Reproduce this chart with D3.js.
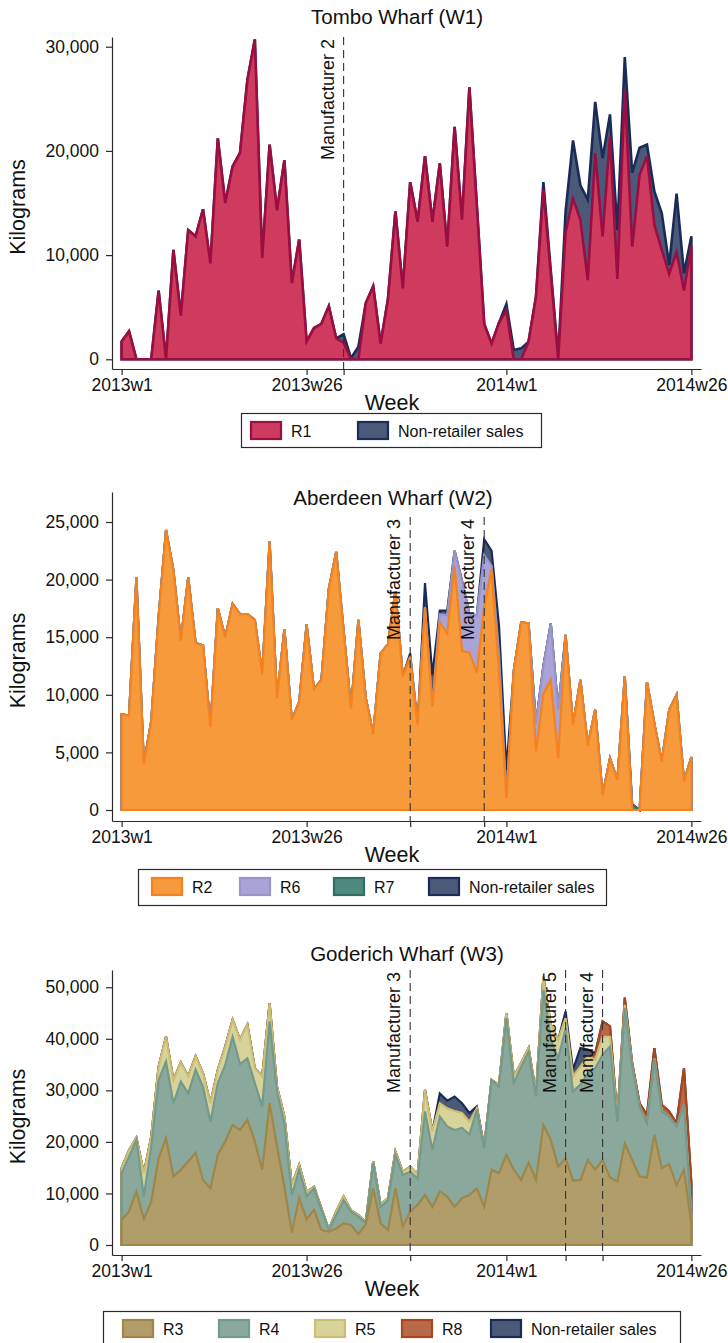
<!DOCTYPE html>
<html>
<head>
<meta charset="utf-8">
<script src="https://cdn.jsdelivr.net/npm/d3@7"></script>
<style>
  body { margin: 0; background: #fff; }
  text { font-family: "Liberation Sans", Arial, Helvetica, sans-serif; fill: #111; }
</style>
</head>
<body>
<svg id="chart" width="728" height="1343"></svg>
<script>
// Weekly landings, 2013w1 .. 2014w26 (78 weeks)
const weeks = d3.range(78);
const weekTicks = [0, 25, 52, 77];
const weekTickLabels = ["2013w1", "2013w26", "2014w1", "2014w26"];

// ---- Tombo Wharf (W1) ----
const w1R1 = [1700,2700,0,0,0,6600,0,10500,4200,12400,
  11800,14400,9200,21200,15000,18500,19800,26800,30700,9700,
  20600,14300,19100,7300,11500,1700,3000,3400,5100,2000,
  1600,0,0,5400,7000,1500,5800,14200,6800,17000,
  13200,19500,13200,18800,10800,22300,13400,26100,14800,3400,
  1500,3500,4700,0,0,1700,6000,16300,8200,0,
  12200,15400,13400,7600,19800,11800,21400,7700,25900,10800,
  17700,19500,12900,10500,8200,10300,6600,10900];
const w1NonRetail = [0,0,0,0,0,0,0,0,0,0,
  0,0,0,0,0,0,0,0,0,0,
  0,0,0,0,0,0,0,0,0,0,
  800,100,1200,0,0,0,0,0,0,0,
  0,0,0,0,0,0,0,0,0,0,
  0,0,600,900,1050,0,0,700,300,200,
  2000,5600,3300,7700,4900,7500,2100,4700,3100,7100,
  2600,1100,3200,3500,850,5600,1650,900];
const w1Ticks = [0, 10000, 20000, 30000];
const w1Markers = [{ week: 30, label: "Manufacturer 2" }];

// ---- Aberdeen Wharf (W2) ----
const w2R2 = [8300,8200,20200,4000,7700,16800,24300,20800,14700,20200,
  14500,14300,7200,17500,15000,17900,17000,17000,16500,11800,
  23300,9700,15700,7800,9400,16100,10500,11300,19200,22400,
  15600,8800,16500,9700,6600,13600,14400,19000,11600,13300,
  7400,17600,9000,16300,15300,21200,13800,13700,11900,17600,
  20900,12000,1000,12100,16300,16200,5100,10100,11300,4500,
  15200,7400,11300,5600,8700,1300,4500,2600,11600,0,
  0,11100,7500,4200,8700,10000,2500,4600];
const w2R6 = [0,0,0,0,0,0,0,0,0,0,
  0,0,0,0,0,0,0,0,0,0,
  0,0,0,0,0,0,0,0,0,0,
  0,0,0,0,0,0,0,0,0,0,
  0,0,0,700,1600,1300,6100,3300,5000,4500,
  300,1500,0,0,0,0,2400,2400,4900,4200,
  0,0,0,0,0,0,0,0,0,0,
  0,0,0,0,0,0,0,0];
const w2R7 = [0,0,0,0,0,0,0,0,0,0,
  0,0,0,0,0,0,0,0,0,0,
  0,0,0,0,0,0,0,0,0,0,
  0,0,0,0,0,0,0,0,0,0,
  0,0,0,0,0,0,0,0,0,0,
  0,0,0,0,0,0,0,0,0,0,
  0,0,0,0,0,0,0,0,0,500,
  0,0,0,0,0,0,0,0];
const w2NonRetail = [0,0,0,0,0,0,0,0,0,0,
  0,0,0,0,0,0,0,0,0,0,
  0,0,0,0,0,0,0,0,0,0,
  0,0,0,0,0,0,0,0,0,300,
  0,2100,2700,300,400,0,0,0,0,1400,
  1300,2500,2500,0,0,0,0,0,0,0,
  0,0,0,0,0,0,0,0,0,0,
  0,0,0,0,0,0,0,0];
const w2Ticks = [0, 5000, 10000, 15000, 20000, 25000];
const w2Markers = [{ week: 39, label: "Manufacturer 3" }, { week: 49, label: "Manufacturer 4" }];

// ---- Goderich Wharf (W3) ----
const w3R3 = [4850,6500,10400,5000,8400,16800,20700,13300,14600,16200,
  17900,12600,11000,17500,20100,23300,22300,24300,20100,14600,
  27500,19100,11300,2400,9100,5000,6800,2900,2600,3200,
  4200,3900,2100,4000,11000,4200,2900,11000,3600,6500,
  7800,9700,7400,10400,9400,7400,9100,9700,11000,7400,
  14600,13900,17500,14600,12600,16000,12600,23300,20400,15200,
  16800,12500,12600,16500,14600,16500,13100,12300,19700,16500,
  13300,13100,21400,14900,15700,11600,14600,4000];
const w3R4 = [9050,10650,10000,4400,10700,15200,14900,14200,17100,13200,
  16100,18100,12900,13900,14800,17100,12800,11900,11300,12300,
  15900,10700,12300,7300,5500,4500,4200,3900,300,2600,
  4500,2600,3400,300,4900,3200,5800,6500,10000,7700,
  5100,16200,11000,14500,13600,14900,13600,11700,15200,11400,
  17400,16800,26500,16800,22000,21500,16200,26200,19400,21000,
  25200,17300,18500,16800,19700,20400,25400,11600,26300,18100,
  13600,10500,14800,11000,9200,11400,12600,1500];
const w3R5 = [1000,1250,400,4500,1900,2600,4800,4500,3700,3300,
  2600,2600,3600,2600,3600,3300,4700,6500,2900,5800,
  3500,900,1300,1900,900,800,300,300,100,700,
  700,200,300,100,300,400,400,600,600,1000,
  700,4200,3600,2600,3500,3700,2900,2500,300,300,
  0,400,1000,1300,700,700,600,2500,2900,3600,
  2000,2900,3500,3300,1600,3500,1900,700,600,300,
  0,0,0,0,0,0,0,0];
const w3R8 = [0,0,0,0,0,0,0,0,0,0,
  0,0,0,0,0,0,0,0,0,0,
  0,0,0,0,0,0,0,0,0,0,
  0,0,0,0,0,0,0,0,0,0,
  0,0,0,0,0,0,0,0,0,0,
  0,0,0,0,0,0,0,0,0,0,
  0,0,0,0,1000,3000,2000,0,1400,400,
  600,1600,2000,1300,1000,600,7100,6500];
const w3NonRetail = [0,0,0,0,0,0,0,0,0,0,
  0,0,0,0,0,0,0,0,0,0,
  0,0,0,0,0,0,0,0,0,0,
  0,0,0,0,0,0,0,0,0,0,
  0,0,0,1900,1500,2800,1900,1700,400,0,
  0,0,0,0,0,0,0,0,0,0,
  1300,1300,3600,1300,300,0,0,0,0,0,
  0,0,0,0,0,0,0,0];
const w3Ticks = [0, 10000, 20000, 30000, 40000, 50000];
const w3Markers = [
  { week: 39, label: "Manufacturer 3" },
  { week: 60, label: "Manufacturer 5" },
  { week: 65, label: "Manufacturer 4" }
];

// Series styles
const STYLE = {
  R1: { fill: "#cf3a5f", stroke: "#9b0e41" },
  R2: { fill: "#f69a3b", stroke: "#f3821f" },
  R3: { fill: "#b09d69", stroke: "#9e8748" },
  R4: { fill: "#8aa99c", stroke: "#739a8b" },
  R5: { fill: "#d8d29b", stroke: "#cbbf74" },
  R6: { fill: "#aaa4d6", stroke: "#9b93cc" },
  R7: { fill: "#4f8a7e", stroke: "#2f6e63" },
  R8: { fill: "#b7694a", stroke: "#a8461e" },
  NR: { fill: "#4b5a79", stroke: "#1b2b57" }
};

const panels = [
  {
    title: "Tombo Wharf (W1)", titleX: 397, titleY: 24,
    top: 37, bottom: 369, yDomain: [-931, 30931], yTicks: w1Ticks,
    markers: w1Markers, markerTop: null, lineWidth: 2.6,
    series: [
      { name: "R1", values: w1R1, ...STYLE.R1 },
      { name: "Non-retailer sales", values: w1NonRetail, ...STYLE.NR }
    ],
    legend: { x: 241, y: 413, w: 300, h: 34, items: [251, 358] }
  },
  {
    title: "Aberdeen Wharf (W2)", titleX: 393, titleY: 505,
    top: 492, bottom: 821, yDomain: [-955, 27604], yTicks: w2Ticks,
    markers: w2Markers, markerTop: 25430, lineWidth: 2.2,
    series: [
      { name: "R2", values: w2R2, ...STYLE.R2 },
      { name: "R6", values: w2R6, ...STYLE.R6 },
      { name: "R7", values: w2R7, ...STYLE.R7 },
      { name: "Non-retailer sales", values: w2NonRetail, ...STYLE.NR }
    ],
    legend: { x: 138, y: 869, w: 468, h: 36, items: [152, 240, 334, 429] }
  },
  {
    title: "Goderich Wharf (W3)", titleX: 407, titleY: 961,
    top: 970, bottom: 1255, yDomain: [-1940, 53346], yTicks: w3Ticks,
    markers: w3Markers, markerTop: null, lineWidth: 2.2,
    series: [
      { name: "R3", values: w3R3, ...STYLE.R3 },
      { name: "R4", values: w3R4, ...STYLE.R4 },
      { name: "R5", values: w3R5, ...STYLE.R5 },
      { name: "R8", values: w3R8, ...STYLE.R8 },
      { name: "Non-retailer sales", values: w3NonRetail, ...STYLE.NR }
    ],
    legend: { x: 103, y: 1311, w: 577, h: 40, items: [123, 219, 315, 402, 491] }
  }
];

const svg = d3.select("#chart");
const x = d3.scaleLinear().domain([-1.3, 78.3]).range([112, 701]);
const AXIS = "#2a2a2a";

function drawPanel(p) {
  const g = svg.append("g");
  const y = d3.scaleLinear().domain(p.yDomain).range([p.bottom, p.top]);

  // stacked areas, each drawn from zero to its cumulative top; upper totals first
  const keys = p.series.map(s => s.name);
  const rows = weeks.map(i => Object.fromEntries(p.series.map(s => [s.name, s.values[i]])));
  const layers = d3.stack().keys(keys)(rows);
  const area = d3.area()
    .x((d, i) => x(weeks[i]))
    .y0(y(0))
    .y1(d => y(d[1]));
  layers.slice().reverse().forEach(layer => {
    const s = p.series[layer.index];
    g.append("path")
      .attr("d", area(layer))
      .attr("fill", s.fill)
      .attr("stroke", s.stroke)
      .attr("stroke-width", p.lineWidth)
      .attr("stroke-linejoin", "miter")
      .attr("stroke-miterlimit", 4);
  });

  // manufacturer entry lines
  const mTop = p.markerTop == null ? p.top : y(p.markerTop);
  p.markers.forEach(m => {
    g.append("line")
      .attr("x1", x(m.week)).attr("x2", x(m.week))
      .attr("y1", mTop).attr("y2", p.bottom)
      .attr("stroke", "#333").attr("stroke-width", 1.1)
      .attr("stroke-dasharray", "8,5");
    g.append("text")
      .attr("transform", `translate(${x(m.week) - 10},${mTop + 2}) rotate(-90)`)
      .attr("text-anchor", "end")
      .style("font-size", "18px")
      .text(m.label);
  });

  // y axis
  const yAxis = g.append("g")
    .attr("transform", `translate(112,0)`)
    .call(d3.axisLeft(y).tickValues(p.yTicks).tickFormat(d3.format(","))
      .tickSize(6).tickSizeOuter(0).tickPadding(7));
  yAxis.select(".domain").attr("stroke", AXIS).attr("stroke-width", 1.2);
  yAxis.selectAll(".tick line").attr("stroke", AXIS).attr("stroke-width", 1.2);
  yAxis.selectAll(".tick text").style("font-size", "17.5px").attr("fill", "#111")
    .style("font-family", '"Liberation Sans", Arial, sans-serif');

  // x axis
  const tickVals = weekTicks.concat(p.markers.map(m => m.week));
  const xAxis = g.append("g")
    .attr("transform", `translate(0,${p.bottom})`)
    .call(d3.axisBottom(x).tickValues(tickVals)
      .tickFormat(v => { const k = weekTicks.indexOf(v); return k >= 0 ? weekTickLabels[k] : ""; })
      .tickSize(6).tickSizeOuter(0).tickPadding(4));
  xAxis.select(".domain").attr("stroke", AXIS).attr("stroke-width", 1.2);
  xAxis.selectAll(".tick line").attr("stroke", AXIS).attr("stroke-width", 1.2);
  xAxis.selectAll(".tick text").style("font-size", "17.5px").attr("fill", "#111")
    .style("font-family", '"Liberation Sans", Arial, sans-serif');

  // titles
  g.append("text").attr("x", p.titleX).attr("y", p.titleY)
    .attr("text-anchor", "middle").style("font-size", "20.5px").text(p.title);
  g.append("text")
    .attr("transform", `translate(25,${(p.top + p.bottom) / 2 + 4}) rotate(-90)`)
    .attr("text-anchor", "middle").style("font-size", "21.5px").text("Kilograms");
  g.append("text").attr("x", 392).attr("y", p.bottom + 41)
    .attr("text-anchor", "middle").style("font-size", "21.5px").text("Week");

  // legend
  const L = p.legend;
  g.append("rect").attr("x", L.x + 0.5).attr("y", L.y + 0.5)
    .attr("width", L.w).attr("height", L.h)
    .attr("fill", "#fff").attr("stroke", AXIS).attr("stroke-width", 1.2);
  p.series.forEach((s, k) => {
    const lx = L.items[k];
    g.append("rect").attr("x", lx).attr("y", L.y + 9)
      .attr("width", 30).attr("height", 17)
      .attr("fill", s.fill).attr("stroke", s.stroke).attr("stroke-width", 2.2);
    g.append("text").attr("x", lx + 40).attr("y", L.y + 23.5)
      .style("font-size", "16px").text(s.name);
  });
}

panels.forEach(drawPanel);
</script>
</body>
</html>
